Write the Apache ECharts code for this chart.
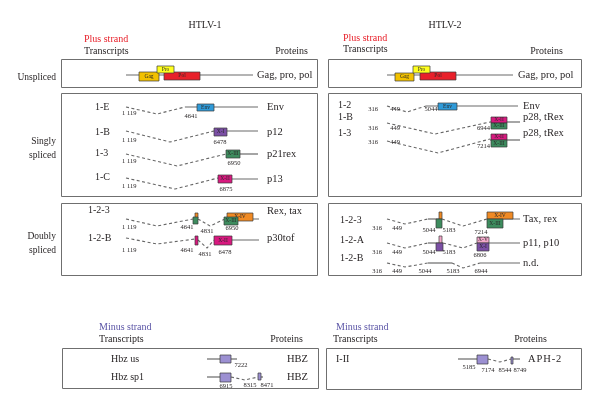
<!DOCTYPE html>
<html><head><meta charset="utf-8">
<script src="https://cdn.jsdelivr.net/npm/echarts@6/dist/echarts.min.js"></script>
<style>html,body{margin:0;padding:0;background:#fff}#c{width:600px;height:410px}</style>
</head><body><div id="c"></div>
<script>
// ---- diagram data (layout units on hidden axes: x 0-600, y 0-410) ----
const panels = [
  [61,59,317,87],[328,59,581,87],
  [61,93,317,196],[328,93,581,196],
  [61,203,317,275],[328,203,581,275],
  [62,348,318,388],[326,348,581,389]
];
const solidPaths = [
  [126,75,253,75],[387,75,513,75],
  [185,107,258,107],[214,131,258,131],[226,154,258,154],[218,179,258,179],
  [426,106,518,106],[490,122,520,122],[490,140,520,140],
  [193,219,198,219],[225,219,259,219],[214,240,259,240],
  [428,219,442,219],[487,219,520,219],
  [428,243,443,243],[477,243,520,243],
  [428,263,452,263],[480,263,520,263],
  [207,359,237,359],[207,377,231,377],[258,377,263,377],
  [458,359,488,359],[512,359,520,359]
];
const dashedPaths = [
  [126,107,157,114,185,107],
  [126,131,170,142,214,131],
  [126,154,177,166,226,154],
  [126,178,175,189,218,178],
  [387,106,407,112,426,106],
  [387,123,435,134,490,122],
  [387,141,438,153,490,139],
  [126,219,157,226,193,219],[198,219,210,226,225,219],
  [126,238,157,244,195,239],[198,240,207,248,214,240],
  [387,219,405,224,428,219],[442,219,463,226,487,219],
  [387,243,405,248,428,243],[443,243,463,248,477,243],
  [387,263,405,267,428,263],[452,263,463,268,480,263],
  [231,377,245,380,258,377],[488,359,500,362,511,359]
];
const exonBoxes = [
  [139,72,159,81],[164,72,200,80],[157,66,174,73],
  [395,73,414,81],[420,72,456,80],[413,66,430,73],
  [197,104,214,111],[214,128,227,136],[226,150,240,158],[218,175,232,183],
  [438,103,457,110],
  [491,117,507,123],[491,123,507,129],
  [491,134,507,140],[491,140,507,147],
  [195,213,198,218],[193,217,198,224],[227,213,253,221],[224,217,238,225],
  [195,236,198,245],[214,236,232,245],
  [439,212,442,219],[436,219,442,228],[487,212,513,219],[487,219,503,228],
  [439,236,442,243],[436,243,443,251],[477,237,489,243],[477,243,489,251],
  [220,355,231,363],[220,373,231,382],[258,373,261,380],
  [477,355,488,364],[511,357,513,364]
];
const exonNames = [
  'Gag','Pol','Pro','Gag','Pol','Pro',
  'Env','X-I','X-III','X-II','Env',
  'X-II','X-III','X-II','X-III',
  '','','X-IV','X-III','','X-II',
  '','','X-IV','X-III',
  '','','X-V','X-I',
  '','','','',''
];
const exonKinds = [
  'gag','pol','pro','gag','pol','pro',
  'env','x1','x3','x2','env',
  'x2','x3','x2','x3',
  'x4','x3','x4','x3','x2','x2',
  'x4','x3','x4','x3',
  'x5','x1','x5','x1',
  'hbz','hbz','hbz','hbz','hbz'
];
// text items: [x, y, text, kind]
const textItems = [
  [205,25,'HTLV-1','title'],[445,25,'HTLV-2','title'],
  [84,39,'Plus strand','plus'],[84,51,'Transcripts','head'],[308,51,'Proteins','headR'],
  [343,38,'Plus strand','plus'],[343,49,'Transcripts','head'],[563,51,'Proteins','headR'],
  [56,77,'Unspliced','row'],[56,141,'Singly','row'],[56,155,'spliced','row'],
  [56,236,'Doubly','row'],[56,250,'spliced','row'],
  [257,75,'Gag, pro, pol','prot'],[518,75,'Gag, pro, pol','prot'],
  [95,107,'1-E','name'],[122,113,'1 119','pos'],[191,116,'4641','posC'],[267,107,'Env','prot'],
  [95,132,'1-B','name'],[122,140,'1 119','pos'],[220,142,'6478','posC'],[267,132,'p12','prot'],
  [95,153,'1-3','name'],[122,161,'1 119','pos'],[234,163,'6950','posC'],[267,154,'p21rex','prot'],
  [95,177,'1-C','name'],[122,186,'1 119','pos'],[226,189,'6875','posC'],[267,179,'p13','prot'],
  [338,105,'1-2','name'],[373,109,'316','posC'],[395,109,'449','posC'],[431,109,'5044','posC'],[523,106,'Env','prot'],
  [338,117,'1-B','name'],[373,128,'316','posC'],[395,128,'449','posC'],[490,128,'6944','posR'],[523,117,'p28, tRex','prot'],
  [338,133,'1-3','name'],[373,142,'316','posC'],[395,142,'449','posC'],[490,146,'7214','posR'],[523,133,'p28, tRex','prot'],
  [88,210,'1-2-3','name'],[122,227,'1 119','pos'],[187,227,'4641','posC'],[207,231,'4831','posC'],[232,228,'6950','posC'],[267,211,'Rex, tax','prot'],
  [88,238,'1-2-B','name'],[122,250,'1 119','pos'],[187,250,'4641','posC'],[205,254,'4831','posC'],[225,252,'6478','posC'],[267,238,'p30tof','prot'],
  [340,220,'1-2-3','name'],[377,228,'316','posC'],[397,228,'449','posC'],[429,230,'5044','posC'],[449,230,'5183','posC'],[481,232,'7214','posC'],[523,219,'Tax, rex','prot'],
  [340,240,'1-2-A','name'],[377,252,'316','posC'],[397,252,'449','posC'],[429,252,'5044','posC'],[449,252,'5183','posC'],[480,255,'6806','posC'],[523,243,'p11, p10','prot'],
  [340,258,'1-2-B','name'],[377,271,'316','posC'],[397,271,'449','posC'],[425,271,'5044','posC'],[453,271,'5183','posC'],[481,271,'6944','posC'],[523,263,'n.d.','prot'],
  [99,327,'Minus strand','minus'],[99,339,'Transcripts','head'],[303,339,'Proteins','headR'],
  [111,359,'Hbz us','name'],[111,377,'Hbz sp1','name'],[241,365,'7222','posC'],[287,359,'HBZ','prot'],[287,377,'HBZ','prot'],
  [226,386,'6915','posC'],[250,385,'8315','posC'],[267,385,'8471','posC'],
  [336,327,'Minus strand','minus'],[333,339,'Transcripts','head'],[547,339,'Proteins','headR'],
  [336,359,'I-II','name'],[528,359,'APH-2','protW'],
  [469,367,'5185','posC'],[488,370,'7174','posC'],[505,370,'8544','posC'],[520,370,'8749','posC']
];

// ---- styles ----
const SERIF = '"Liberation Serif","DejaVu Serif",serif';
const exonFill = {gag:'#f2c100',pol:'#e8202a',pro:'#ffff1e',env:'#2f9ad8',x1:'#7b4fa5',
  x2:'#d8197f',x3:'#3d8c5e',x4:'#f08a24',x5:'#f4a8cb',hbz:'#9c90d2'};
const textStyle = {
  title:{size:10,color:'#231f20',align:'center'},
  head:{size:10,color:'#231f20',align:'left'},
  headR:{size:10,color:'#231f20',align:'right'},
  plus:{size:10,color:'#e8202a',align:'left'},
  minus:{size:10,color:'#5b55a6',align:'left'},
  row:{size:9.5,color:'#231f20',align:'right'},
  prot:{size:10.5,color:'#231f20',align:'left'},
  protW:{size:10.5,color:'#231f20',align:'left',spacing:true},
  name:{size:10,color:'#231f20',align:'left'},
  pos:{size:6.5,color:'#231f20',align:'left'},
  posC:{size:6.5,color:'#231f20',align:'center'},
  posR:{size:6.5,color:'#231f20',align:'right'}
};

function pt(api, a, b){ return api.coord([api.value(a), api.value(b)]); }

const chart = echarts.init(document.getElementById('c'), null, {renderer:'canvas'});
chart.setOption({
  backgroundColor:'#fff',
  animation:false,
  grid:{left:0,top:0,width:600,height:410,containLabel:false},
  xAxis:{type:'value',min:0,max:600,show:false},
  yAxis:{type:'value',min:0,max:410,inverse:true,show:false},
  series:[
    {type:'custom',clip:false,data:panels,renderItem:function(params,api){
      const p1=pt(api,0,1), p2=pt(api,2,3);
      return {type:'rect',shape:{x:Math.round(p1[0])+0.5,y:Math.round(p1[1])+0.5,
        width:Math.round(p2[0]-p1[0]),height:Math.round(p2[1]-p1[1])},
        style:{fill:null,stroke:'#6f6f6f',lineWidth:1}};
    }},
    {type:'custom',clip:false,data:solidPaths,renderItem:function(params,api){
      const p1=pt(api,0,1), p2=pt(api,2,3);
      return {type:'line',shape:{x1:p1[0],y1:p1[1],x2:p2[0],y2:p2[1]},
        style:{stroke:'#6a6a6a',lineWidth:1.2}};
    }},
    {type:'custom',clip:false,data:dashedPaths,renderItem:function(params,api){
      const pts=[pt(api,0,1),pt(api,2,3),pt(api,4,5)];
      return {type:'polyline',shape:{points:pts},
        style:{stroke:'#666',lineWidth:1.1,lineDash:[3,2.5],fill:null}};
    }},
    {type:'custom',clip:false,data:exonBoxes,renderItem:function(params,api){
      const p1=pt(api,0,1), p2=pt(api,2,3);
      const i=params.dataIndex;
      const w=p2[0]-p1[0], h=p2[1]-p1[1];
      const children=[{type:'rect',shape:{x:p1[0],y:p1[1],width:w,height:h},
        style:{fill:exonFill[exonKinds[i]],stroke:'#3a3a3a',lineWidth:0.7}}];
      if(exonNames[i]){
        children.push({type:'text',x:(p1[0]+p2[0])/2,y:(p1[1]+p2[1])/2,
          style:{text:exonNames[i],fill:'#2a2a2a',font:'5.5px '+SERIF,align:'center',verticalAlign:'middle'}});
      }
      return {type:'group',children:children};
    }},
    {type:'custom',clip:false,data:textItems.map(t=>[t[0],t[1]]),renderItem:function(params,api){
      const p=pt(api,0,1);
      const t=textItems[params.dataIndex];
      const s=textStyle[t[3]];
      let txt=t[2];
      if(s.spacing) txt=txt.split('').join('\u200A');
      return {type:'text',x:p[0],y:p[1],
        style:{text:txt,fill:s.color,font:s.size+'px '+SERIF,align:s.align,verticalAlign:'middle'}};
    }}
  ]
});
</script></body></html>
